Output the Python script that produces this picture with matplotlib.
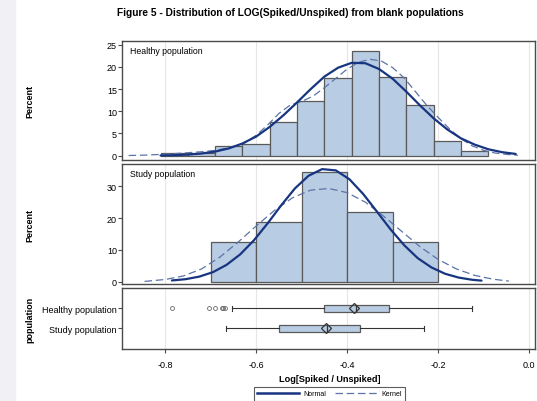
import numpy as np
import matplotlib
matplotlib.use('Agg')
import matplotlib.pyplot as plt
from matplotlib.patches import Rectangle
from matplotlib.lines import Line2D

plt.rcParams['font.family'] = ['Liberation Sans', 'DejaVu Sans']
plt.rcParams['axes.unicode_minus'] = False

# histogram bins (left edges) and percents
healthy_left = [-0.81, -0.75, -0.69, -0.63, -0.57, -0.51, -0.45, -0.39, -0.33, -0.27, -0.21, -0.15]
healthy_pct = [0.5, 0.5, 2.1, 2.7, 7.5, 12.3, 17.4, 23.6, 17.6, 11.3, 3.4, 1.0]
healthy_bw = 0.06
study_left = [-0.70, -0.60, -0.50, -0.40, -0.30]
study_pct = [12.5, 18.75, 34.375, 21.875, 12.5]
study_bw = 0.1

# fitted curves
healthy_norm_x = [-0.81, -0.78, -0.75, -0.72, -0.69, -0.66, -0.63, -0.60, -0.57, -0.54, -0.51, -0.48, -0.45,
                  -0.42, -0.39, -0.36, -0.33, -0.30, -0.27, -0.24, -0.21, -0.18, -0.15, -0.12, -0.09, -0.06, -0.03]
healthy_norm_y = [0.05, 0.12, 0.25, 0.5, 0.93, 1.65, 2.75, 4.3, 6.5, 9.1, 12.0, 15.0, 17.8,
                  19.8, 20.9, 20.8, 19.5, 17.3, 14.4, 11.3, 8.4, 5.9, 3.9, 2.5, 1.45, 0.8, 0.4]
healthy_kern_x = [-0.88, -0.84, -0.80, -0.76, -0.72, -0.69, -0.66, -0.63, -0.60, -0.575, -0.55, -0.525, -0.50,
                  -0.475, -0.45, -0.425, -0.40, -0.375, -0.35, -0.325, -0.30, -0.275, -0.25, -0.225, -0.20,
                  -0.175, -0.15, -0.125, -0.10, -0.075, -0.05, -0.025]
healthy_kern_y = [0.05, 0.15, 0.35, 0.6, 0.9, 1.2, 1.8, 2.6, 4.6, 6.9, 9.5, 11.4, 12.2,
                  13.4, 15.3, 17.4, 19.5, 21.0, 21.7, 21.3, 19.8, 17.5, 14.4, 11.3, 8.6,
                  6.0, 3.8, 2.2, 1.2, 0.6, 0.3, 0.1]
study_norm_x = [-0.785, -0.755, -0.725, -0.695, -0.665, -0.635, -0.605, -0.575, -0.545, -0.515, -0.485, -0.455,
                -0.425, -0.395, -0.365, -0.335, -0.305, -0.275, -0.245, -0.215, -0.185, -0.155, -0.125, -0.105]
study_norm_y = [0.4, 0.8, 1.6, 3.0, 5.3, 8.6, 13.0, 18.3, 24.0, 29.3, 33.3, 35.4,
                35.0, 32.2, 27.6, 22.1, 16.5, 11.5, 7.4, 4.5, 2.5, 1.3, 0.6, 0.35]
study_kern_x = [-0.845, -0.80, -0.76, -0.72, -0.68, -0.64, -0.60, -0.56, -0.52, -0.48, -0.44, -0.40,
                -0.36, -0.32, -0.28, -0.24, -0.20, -0.16, -0.12, -0.08, -0.045]
study_kern_y = [0.1, 0.7, 1.8, 4.0, 7.7, 12.4, 17.5, 22.4, 26.4, 28.8, 29.3, 28.0,
                25.0, 20.6, 15.8, 11.0, 7.0, 4.0, 2.0, 0.8, 0.2]

# box plot summaries
box_labels = ['Study population', 'Healthy population']
box_q1 = [-0.550, -0.451]
box_med = [-0.445, -0.380]
box_q3 = [-0.371, -0.308]
box_mean = [-0.447, -0.384]
box_lo = [-0.667, -0.654]
box_hi = [-0.232, -0.125]
box_fliers = [[], [-0.785, -0.704, -0.690, -0.676, -0.672, -0.668]]

xticks = [-0.8, -0.6, -0.4, -0.2, 0.0]

bar_fill = '#b8cce4'
bar_edge = '#5a5a5a'
navy = '#173580'
kern_col = '#5b74a6'
spine_col = '#4a4a4a'

fig = plt.figure(figsize=(5.37, 4.02), dpi=100)
fig.patches.append(Rectangle((0, 0), 15/537, 1, transform=fig.transFigure, color='#f1f1f5', zorder=0))

ax1 = fig.add_axes([0.2277, 0.6002, 0.7686, 0.2953])
ax2 = fig.add_axes([0.2277, 0.2910, 0.7686, 0.2985])
ax3 = fig.add_axes([0.2277, 0.1301, 0.7686, 0.1502])

def style(ax):
    for s in ax.spines.values():
        s.set_color(spine_col)
        s.set_linewidth(1.0)
    ax.set_xlim(-0.894, 0.0125)
    ax.set_xticks(xticks)
    ax.grid(axis='x', color='#e6e6e6', lw=0.8)
    ax.set_axisbelow(True)
    ax.tick_params(axis='y', length=3, width=0.8, color=spine_col, labelsize=6.5, pad=0.8)
    ax.tick_params(axis='x', length=3.2, width=0.8, color=spine_col, labelsize=6.5, pad=5)

panels = [(ax1, healthy_left, healthy_pct, healthy_bw, healthy_norm_x, healthy_norm_y, healthy_kern_x, healthy_kern_y, 'Healthy population'),
          (ax2, study_left, study_pct, study_bw, study_norm_x, study_norm_y, study_kern_x, study_kern_y, 'Study population')]
for ax, left, pct, bw, nx, ny, kx, ky, lab in panels:
    style(ax)
    ax.bar(left, pct, width=bw, align='edge', color=bar_fill, edgecolor=bar_edge, linewidth=0.9, zorder=2)
    ax.plot(kx, ky, color=kern_col, lw=0.9, dashes=(6, 3), zorder=3)
    ax.plot(nx, ny, color=navy, lw=1.6, zorder=4, solid_joinstyle='round', solid_capstyle='round')
    ax.tick_params(axis='x', bottom=False, labelbottom=False)
    ax.text(0.019, 0.92, lab, transform=ax.transAxes, fontsize=6.3, va='center', ha='left')

ax1.set_ylim(-0.9, 25.8)
ax1.set_yticks([0, 5, 10, 15, 20, 25])
ax2.set_ylim(-0.72, 37.0)
ax2.set_yticks([0, 10, 20, 30])

style(ax3)
stats = []
for i in range(2):
    stats.append(dict(label=box_labels[i], q1=box_q1[i], med=box_med[i], q3=box_q3[i], mean=box_mean[i],
                      whislo=box_lo[i], whishi=box_hi[i], fliers=box_fliers[i]))
ax3.bxp(stats, positions=[0, 1], orientation='horizontal', widths=0.36, capwidths=0.25,
        showmeans=True, patch_artist=True,
        boxprops=dict(facecolor=bar_fill, edgecolor=bar_edge, linewidth=0.9),
        medianprops=dict(color='#333333', linewidth=0.9),
        whiskerprops=dict(color='#333333', linewidth=0.8),
        capprops=dict(color='#333333', linewidth=0.8),
        meanprops=dict(marker='D', markerfacecolor='none', markeredgecolor='#333333', markersize=5.5, markeredgewidth=0.9),
        flierprops=dict(marker='o', markerfacecolor='none', markeredgecolor='#666666', markersize=2.8, markeredgewidth=0.6))
ax3.set_ylim(-1.02, 2.0)
ax3.set_yticks([0, 1])
ax3.set_yticklabels(box_labels)
ax3.set_xticks(xticks)
ax3.set_xticklabels(['%.1f' % t for t in xticks])

fig.text(30/537, 1-101/402, 'Percent', rotation=90, ha='center', va='center', fontsize=6.5, fontweight='bold')
fig.text(30/537, 1-225/402, 'Percent', rotation=90, ha='center', va='center', fontsize=6.5, fontweight='bold')
fig.text(30/537, 1-320/402, 'population', rotation=90, ha='center', va='center', fontsize=6.5, fontweight='bold')
fig.text(330/537, 1-380/402, 'Log[Spiked / Unspiked]', ha='center', va='center', fontsize=6.6, fontweight='bold')
fig.text(290/537, 1-13/402, 'Figure 5 - Distribution of LOG(Spiked/Unspiked) from blank populations',
         ha='center', va='center', fontsize=7.3, fontweight='bold')

h1 = Line2D([], [], color=navy, lw=1.8)
h2 = Line2D([], [], color=kern_col, lw=0.9, dashes=(6, 3))
leg = fig.legend([h1, h2], ['Normal', 'Kernel'], loc='upper center', bbox_to_anchor=(329.5/537, 1-388/402),
                 ncol=2, fontsize=5, frameon=True, fancybox=False, handlelength=6.0, handletextpad=0.7,
                 columnspacing=1.2, borderpad=0.5, borderaxespad=0)
leg.get_frame().set_edgecolor('#333333')
leg.get_frame().set_linewidth(0.8)

fig.savefig('out.png', dpi=100)
